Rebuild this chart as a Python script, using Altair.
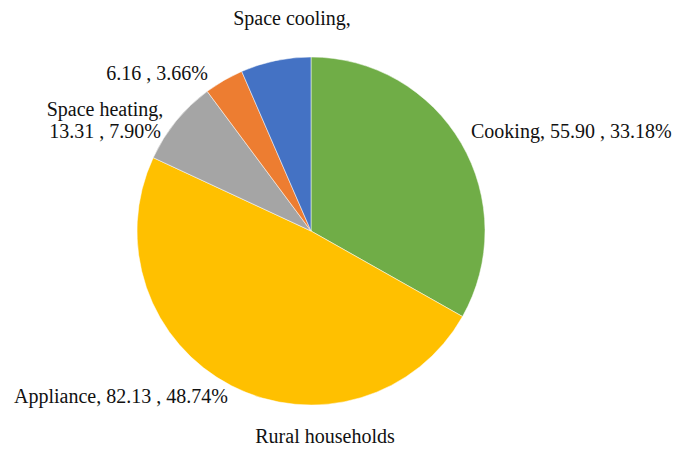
import altair as alt
import pandas as pd

categories = ["Cooking", "Appliance", "Space heating", "Space cooling", "Other"]
values = [55.90, 82.13, 13.31, 6.16, 10.98]
colors = ["#70AD47", "#FFC000", "#A5A5A5", "#ED7D31", "#4472C4"]

label_texts = [
    "Cooking, 55.90 , 33.18%",
    "Appliance, 82.13 , 48.74%",
    ["Space heating,", "13.31 , 7.90%"],
    "6.16 , 3.66%",
    "Space cooling,",
]
title_text = "Rural households"

df = pd.DataFrame({"category": categories, "value": values, "idx": list(range(len(values)))})

FONT = "Liberation Serif"

pie = alt.Chart(df).mark_arc(radius=174, stroke="white", strokeWidth=0.5).encode(
    theta=alt.Theta("value:Q", stack=True),
    color=alt.Color("category:N", scale=alt.Scale(domain=categories, range=colors), legend=None),
    order=alt.Order("idx:Q"),
    x=alt.value(303),
    y=alt.value(223),
)

def txt(t, x, y, align="center"):
    return alt.Chart(pd.DataFrame({"t": [0]})).mark_text(
        text=t, font=FONT, fontSize=20, color="#111111", align=align, baseline="middle", lineHeight=22
    ).encode(x=alt.value(x), y=alt.value(y))

layers = [
    pie,
    txt(label_texts[0], 463, 124, "left"),
    txt(label_texts[1], 6, 389, "left"),
    txt(label_texts[2], 97, 102),
    txt(label_texts[3], 149, 66),
    txt(label_texts[4], 284, 11),
    txt(title_text, 317, 429),
]

chart = alt.layer(*layers).properties(
    width=669, height=442, autosize="none", padding=0
).configure_view(stroke=None)

chart.save("out.html", embed_options={"renderer": "svg", "actions": False})
